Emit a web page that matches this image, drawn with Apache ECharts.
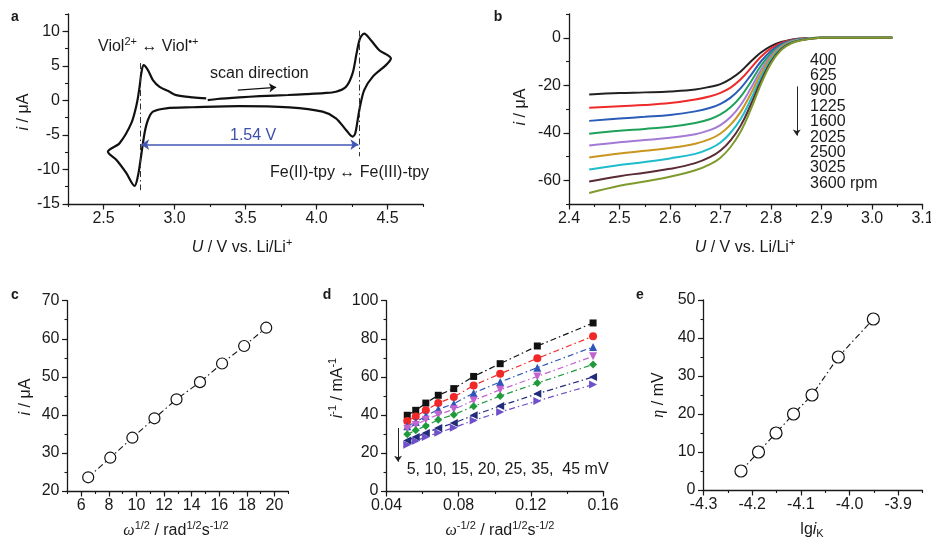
<!DOCTYPE html>
<html><head><meta charset="utf-8">
<script src="https://cdn.jsdelivr.net/npm/echarts@6/dist/echarts.min.js"></script>
<style>html,body{margin:0;padding:0;background:#fff}#c{width:931px;height:545px}</style>
</head><body><div id="c"></div>
<script>
// ---------- Panel a: cyclic voltammogram (scan order) ----------
const cvU = [3.234, 3.30, 3.457, 3.60, 3.80, 3.926, 4.05, 4.137, 4.208, 4.254, 4.282, 4.306, 4.336, 4.383, 4.442, 4.524, 4.489, 4.395, 4.336, 4.306, 4.29, 4.273, 4.254, 4.208, 4.137, 4.043, 3.809, 3.457, 3.129, 2.942, 2.848, 2.813, 2.789, 2.761, 2.742, 2.719, 2.66, 2.59, 2.531, 2.613, 2.696, 2.735, 2.754, 2.766, 2.782, 2.813, 2.848, 2.895, 2.965, 3.012, 3.129, 3.223];
const cvI = [0.04, 0.2, 0.43, 0.6, 0.78, 0.91, 1.05, 1.24, 1.96, 3.9, 6.78, 8.94, 9.66, 8.7, 7.26, 6.06, 5.1, 3.4, 1.49, -0.92, -2.84, -4.76, -5.25, -4.29, -2.6, -1.64, -1.01, -0.82, -1.0, -1.15, -1.64, -2.84, -4.76, -8.6, -11.0, -12.37, -10.5, -8.6, -7.42, -6.2, -3.3, -0.43, 1.96, 3.9, 5.09, 4.37, 2.93, 1.96, 1.24, 0.76, 0.43, 0.29];

// ---------- Panel b: RDE polarization curves ----------
const rdeU = [2.44, 2.50, 2.55, 2.60, 2.65, 2.68, 2.70, 2.72, 2.74, 2.76, 2.78, 2.80, 2.82, 2.84, 2.86, 2.88, 2.90, 2.95, 3.00, 3.04];
const rpmNames = ['400', '625', '900', '1225', '1600', '2025', '2500', '3025', '3600'];
const i400  = [-23.9,-23.3,-23.0,-22.6,-21.8,-20.6,-19.5,-17.3,-14.2,-10.0,-6.2,-3.5,-1.8,-0.8,-0.3,-0.1,0,0,0,0];
const i625  = [-29.5,-28.8,-28.3,-27.5,-26.0,-24.6,-23.2,-21.0,-17.5,-12.8,-8.0,-4.5,-2.2,-1.0,-0.4,-0.1,0,0,0,0];
const i900  = [-35.0,-34.0,-33.3,-32.5,-31.0,-29.5,-27.8,-25.2,-21.2,-15.8,-10.0,-5.6,-2.7,-1.2,-0.5,-0.2,0,0,0,0];
const i1225 = [-40.4,-39.2,-38.4,-37.5,-35.9,-34.2,-32.3,-29.3,-24.8,-18.6,-11.8,-6.6,-3.2,-1.4,-0.6,-0.2,0,0,0,0];
const i1600 = [-45.4,-44.0,-43.1,-42.1,-40.6,-38.8,-36.8,-33.4,-28.3,-21.3,-13.6,-7.5,-3.6,-1.6,-0.7,-0.2,0,0,0,0];
const i2025 = [-50.4,-48.7,-47.6,-46.4,-44.6,-42.6,-40.3,-36.6,-31.2,-23.6,-15.2,-8.4,-4.0,-1.8,-0.8,-0.3,0,0,0,0];
const i2500 = [-55.5,-53.6,-52.3,-50.8,-48.9,-46.6,-44.1,-40.0,-34.2,-26.0,-16.8,-9.3,-4.4,-2.0,-0.9,-0.3,0,0,0,0];
const i3025 = [-60.5,-58.3,-56.8,-55.2,-52.8,-50.2,-47.5,-43.2,-37.0,-28.2,-18.3,-10.1,-4.8,-2.2,-1.0,-0.4,0,0,0,0];
const i3600 = [-65.4,-62.3,-60.5,-58.5,-55.8,-53.2,-50.5,-46.0,-39.5,-30.2,-19.6,-10.8,-5.2,-2.4,-1.1,-0.4,0,0,0,0];
const rdeColors = ['#222222','#ee2a2a','#2a5cb8','#1ea25a','#a37ad6','#c9961f','#1fbccc','#5a2a35','#7f9a2e'];

// ---------- Panel c: Levich plot ----------
const omegaSqrt = [6.5, 8.1, 9.7, 11.3, 12.9, 14.6, 16.2, 17.8, 19.4];
const iLim = [23.6, 28.75, 34.0, 39.1, 44.1, 48.6, 53.5, 58.1, 62.9];

// ---------- Panel d: Koutecky-Levich plots ----------
const omegaInvSqrt = [0.0515, 0.0562, 0.0618, 0.0687, 0.0773, 0.0883, 0.103, 0.1236, 0.1545];
const kl5  = [39.8, 42.4, 46.2, 50.3, 53.8, 60.2, 66.9, 76.2, 88.3];
const kl10 = [36.8, 39.2, 42.4, 46.2, 49.4, 55.5, 61.6, 69.7, 81.3];
const kl15 = [34.0, 36.3, 39.4, 42.9, 45.9, 51.5, 57.3, 64.8, 75.7];
const kl20 = [32.7, 34.7, 37.5, 40.1, 42.9, 47.6, 53.2, 60.2, 70.8];
const kl25 = [29.8, 31.9, 34.2, 37.5, 40.1, 44.5, 49.9, 56.7, 66.5];
const kl35 = [26.6, 28.4, 30.5, 33.1, 35.7, 39.8, 44.7, 51.1, 59.9];
const kl45 = [24.3, 26.3, 28.4, 30.6, 33.3, 37.1, 41.5, 47.3, 55.9];
const klColors = ['#111111','#f02828','#2f55b8','#c263d0','#1f9a3c','#222a7a','#6e50c8'];

// ---------- Panel e: Tafel plot ----------
const lgiK = [-4.223, -4.187, -4.151, -4.115, -4.077, -4.023, -3.951];
const eta = [5, 10, 15, 20, 25, 35, 45];

// ---------- tick labels ----------
const aXTicks = [2.5, 3.0, 3.5, 4.0, 4.5], aYTicks = [-15, -10, -5, 0, 5, 10];
const bXTicks = [2.4, 2.5, 2.6, 2.7, 2.8, 2.9, 3.0, 3.1], bYTicks = [-60, -40, -20, 0];
const cXTicks = [6, 8, 10, 12, 14, 16, 18, 20], cYTicks = [20, 30, 40, 50, 60, 70];
const dXTicks = [0.04, 0.08, 0.12, 0.16], dYTicks = [0, 20, 40, 60, 80, 100];
const eXTicks = [-4.3, -4.2, -4.1, -4.0, -3.9], eYTicks = [0, 10, 20, 30, 40, 50];

const FF = "'Liberation Sans', Arial, Helvetica, sans-serif";
const SERIF = "'Liberation Serif', 'DejaVu Serif', serif";
const AX = '#1a1a1a';
const DASHDOT = [6, 3, 1.5, 3];

function makeAxes(grid, min, max, step, majors, digits, isX) {
  const fmt = v => majors.some(m => Math.abs(m - v) < 1e-9) ? Number(v).toFixed(digits) : '';
  const base = {type: 'value', gridIndex: grid, min: min, max: max, interval: step,
    splitLine: {show: false}, position: isX ? 'bottom' : 'left'};
  const prim = Object.assign({}, base, {
    axisLine: {show: true, onZero: false, lineStyle: {color: AX, width: 1.3}},
    axisTick: {show: true, inside: false, length: 3, lineStyle: {color: AX, width: 1.1}},
    axisLabel: {show: false}
  });
  const sec = Object.assign({}, base, {
    axisLine: {show: false, onZero: false},
    axisTick: {show: true, inside: false, length: 5.5, customValues: majors, lineStyle: {color: AX, width: 1.2}},
    axisLabel: {show: true, customValues: majors, formatter: fmt, margin: isX ? 7 : 8,
      color: '#1a1a1a', fontSize: 16, fontFamily: FF}
  });
  return [prim, sec];
}

const grids = [
  {left: 68, top: 14, width: 355, height: 190},
  {left: 569, top: 14, width: 353.5, height: 190},
  {left: 67.5, top: 300.7, width: 220.8, height: 190.3},
  {left: 386.5, top: 300.7, width: 216.5, height: 190.3},
  {left: 703.5, top: 300, width: 219, height: 190}
].map(g => Object.assign({containLabel: false, outerBoundsMode: 'none'}, g));

const xAxes = [].concat(
  makeAxes(0, 2.25, 4.75, 0.25, aXTicks, 1, true),
  makeAxes(1, 2.4, 3.1, 0.05, bXTicks, 1, true),
  makeAxes(2, 5, 21, 1, cXTicks, 0, true),
  makeAxes(3, 0.04, 0.16, 0.02, dXTicks, 2, true),
  makeAxes(4, -4.3, -3.85, 0.05, eXTicks, 1, true)
);
const yAxes = [].concat(
  makeAxes(0, -15, 12.5, 2.5, aYTicks, 0, false),
  makeAxes(1, -70, 10, 10, bYTicks, 0, false),
  makeAxes(2, 20, 70, 5, cYTicks, 0, false),
  makeAxes(3, 0, 100, 10, dYTicks, 0, false),
  makeAxes(4, 0, 50, 5, eYTicks, 0, false)
);

function pairs(xs, ys) { return xs.map((x, k) => [x, ys[k]]); }
function mark(ax, lines, color, width, symbols, type, size) {
  return {type: 'line', xAxisIndex: ax, yAxisIndex: ax, data: [], silent: true,
    markLine: {silent: true, animation: false, symbol: symbols, symbolSize: size || 8,
      label: {show: false}, emphasis: {disabled: true},
      lineStyle: {color: color, width: width, type: type || 'solid'},
      data: lines.map(l => [{coord: l[0]}, {coord: l[1]}])}};
}

const series = [];
// a
series.push({type: 'line', xAxisIndex: 0, yAxisIndex: 0, data: pairs(cvU, cvI), smooth: 0.3,
  showSymbol: false, lineStyle: {color: '#111', width: 2.2}});
series.push(mark(0, [[[2.76, 5.4], [2.76, -13.0]], [[4.30, 10.1], [4.30, -8.1]]], '#333', 1, ['none', 'none'], DASHDOT));
series.push(mark(0, [[[2.765, -6.4], [4.295, -6.4]]], '#4356b4', 1.5, ['arrow', 'arrow'], 'solid', 8));
series.push(mark(0, [[[3.446, 1.49], [3.716, 1.88]]], '#111', 1.2, ['none', 'arrow'], 'solid', 7));
// b
[i400, i625, i900, i1225, i1600, i2025, i2500, i3025, i3600].forEach((arr, k) => {
  series.push({type: 'line', name: rpmNames[k], xAxisIndex: 2, yAxisIndex: 2, data: pairs(rdeU, arr),
    smooth: 0.4, showSymbol: false, lineStyle: {color: rdeColors[k], width: 2}});
});
series.push(mark(2, [[[2.851, -20.5], [2.851, -41.2]]], '#222', 1, ['none', 'arrow'], 'solid', 6));
// c
series.push({type: 'line', xAxisIndex: 4, yAxisIndex: 4, data: pairs(omegaSqrt, iLim), symbol: 'circle', symbolSize: 11,
  itemStyle: {color: '#fff', borderColor: '#111', borderWidth: 1.2}, lineStyle: {color: '#111', width: 1.1, type: DASHDOT}});
// d
const klSym = ['rect', 'circle', 'triangle', 'triangle', 'diamond', 'triangle', 'triangle'];
const klRot = [0, 0, 0, 180, 0, 90, -90];
const klSize = [7, 8, 8, 8, 8, 8, 8];
[kl5, kl10, kl15, kl20, kl25, kl35, kl45].forEach((arr, k) => {
  series.push({type: 'line', xAxisIndex: 6, yAxisIndex: 6, data: pairs(omegaInvSqrt, arr), symbol: klSym[k],
    symbolRotate: klRot[k], symbolSize: klSize[k], itemStyle: {color: klColors[k]},
    lineStyle: {color: klColors[k], width: 1.2, type: DASHDOT}});
});
series.push(mark(6, [[[0.0464, 33.1], [0.0464, 15.4]]], '#222', 1, ['none', 'arrow'], 'solid', 6));
// e
series.push({type: 'line', xAxisIndex: 8, yAxisIndex: 8, data: pairs(lgiK, eta), symbol: 'circle', symbolSize: 12,
  itemStyle: {color: '#fff', borderColor: '#111', borderWidth: 1.2}, lineStyle: {color: '#111', width: 1.1, type: DASHDOT}});

// ---------- texts ----------
const RICH = {
  i: {fontSize: 16, fontFamily: FF, fontStyle: 'italic'},
  w: {fontSize: 16, fontFamily: SERIF, fontStyle: 'italic'},
  sup: {fontSize: 11, fontFamily: FF, verticalAlign: 'top'},
  sub: {fontSize: 11, fontFamily: FF, verticalAlign: 'bottom'}
};
function T(x, y, text, o) {
  o = o || {};
  return {type: 'text', x: x, y: y, rotation: o.rot || 0, silent: true,
    style: {text: text, fontSize: o.size || 16, fontFamily: FF, fontWeight: o.bold ? 'bold' : 'normal',
      fill: o.color || '#1a1a1a', align: o.align || 'center', verticalAlign: o.va || 'middle',
      lineHeight: o.lh || 22, rich: RICH}};
}
const V = Math.PI / 2;
const graphics = [
  T(15, 17, 'a', {bold: true, size: 14}), T(498, 17, 'b', {bold: true, size: 14}),
  T(15, 295, 'c', {bold: true, size: 14}), T(327, 295, 'd', {bold: true, size: 14}), T(640, 295, 'e', {bold: true, size: 14}),
  T(24, 112, '{i|i} / μA', {rot: V}),
  T(242, 248, '{i|U} / V vs. Li/Li{sup|+}'),
  T(521, 107, '{i|i} / μA', {rot: V}),
  T(745, 248, '{i|U} / V vs. Li/Li{sup|+}'),
  T(26, 397, '{i|i} / μA', {rot: V}),
  T(176, 531, '{w|ω}{sup|1/2} / rad{sup|1/2}s{sup|-1/2}'),
  T(338, 388, '{i|i}{sup|-1} / mA{sup|-1}', {rot: V}),
  T(500, 531, '{w|ω}{sup|-1/2} / rad{sup|1/2}s{sup|-1/2}'),
  T(659, 395, '{w|η} / mV', {rot: V}),
  T(812, 530, 'lg{i|i}{sub|K}', {lh: 18}),
  T(98, 47, 'Viol{sup|2+} ↔ Viol{sup|•+}', {align: 'left'}),
  T(210, 74, 'scan direction', {align: 'left'}),
  T(230, 136, '1.54 V', {align: 'left', color: '#3d4fa8'}),
  T(270, 173, 'Fe(II)-tpy ↔ Fe(III)-tpy', {align: 'left'}),
  T(810, 52.5, rpmNames.slice(0, 8).join('\n') + '\n3600 rpm', {align: 'left', va: 'top', lh: 15.4}),
  T(406.7, 470, '5, 10, 15, 20, 25, 35,  45 mV', {align: 'left'})
];

const chart = echarts.init(document.getElementById('c'), null, {renderer: 'canvas'});
chart.setOption({
  animation: false,
  backgroundColor: '#fff',
  grid: grids,
  xAxis: xAxes,
  yAxis: yAxes,
  series: series,
  graphic: graphics
});
</script></body></html>
